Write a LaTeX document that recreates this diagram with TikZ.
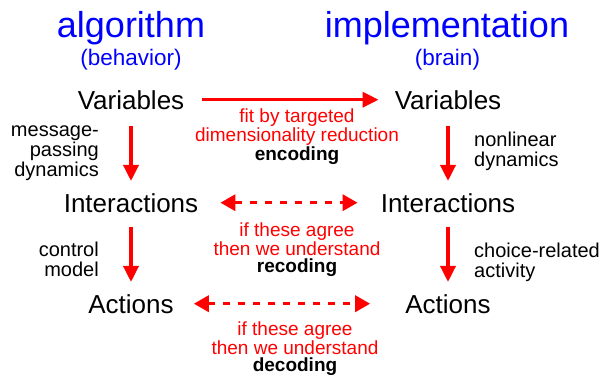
\documentclass[tikz,border=0pt]{standalone}
\usepackage{fontspec}
\setmainfont{Liberation Sans}
\usetikzlibrary{arrows.meta}
\tikzset{
	title_style/.style = {text=blue, font=\fontsize{36}{40}\selectfont, inner sep=0pt, anchor=base},
	sub_style/.style = {text=blue, font=\fontsize{22.5}{26}\selectfont, inner sep=0pt, anchor=base},
	note_style/.style = {text=red, font=\fontsize{19}{17}\selectfont, align=center, inner sep=0pt, anchor=base},
	side_style/.style = {font=\fontsize{20}{20}\selectfont, inner sep=0pt}
}

\begin{document}
\begin{tikzpicture}[
    x=1pt, y=-1pt,
    node distance=317pt,
    level_style/.style={
        font=\fontsize{26}{30}\selectfont,
        inner sep=0pt,
        anchor=base
        },
    link_style/.style={
        draw=red,
        line width=3.5pt,
        -{Triangle[length=16pt,width=15pt]}
        },
    match_style/.style={
        draw=red,
        line width=3.5pt,
        dash pattern=on 7pt off 8pt,
        {Triangle[length=15pt,width=16pt]}-{Triangle[length=15pt,width=16pt]}
        }]
    \useasboundingbox (0,0) rectangle (603,378);

    % column heads
    \node[title_style] (alg) at (131,37) {algorithm};
    \node[sub_style] (beh) at (131,65) {(behavior)};
    \node[title_style] (impl) at (447,37) {implementation};
    \node[sub_style] (brain) at (447.5,65) {(brain)};

    % levels
    \node[level_style] (var1) at (131,109) {Variables};
    \node[level_style] (int1) at (131,212) {Interactions};
    \node[level_style] (act1) at (131,313) {Actions};
    \node[level_style, right of=var1] (var2) {Variables};
    \node[level_style, right of=int1] (int2) {Interactions};
    \node[level_style, right of=act1] (act2) {Actions};

    \draw[link_style, shorten <=18pt, shorten >=16pt] (var1.east) -- (var2.west);
    \draw[link_style, shorten <=17pt, shorten >=12pt] (var1) -- (int1);
    \draw[link_style, shorten <=15pt, shorten >=12pt] (int1) -- (act1);
    \draw[link_style, shorten <=17pt, shorten >=12pt] (var2) -- (int2);
    \draw[link_style, shorten <=15pt, shorten >=12pt] (int2) -- (act2);
    \draw[match_style, shorten <=22pt, shorten >=23pt] (int1.east) -- (int2.west);
    \draw[match_style, shorten <=20pt, shorten >=35pt] (act1.east) -- (act2.west);

    % labels (base = last line)
    \node[note_style] (enc) at (297,160) {fit by targeted\\dimensionality reduction\\{\color{black}\bfseries encoding}};
    \node[note_style] (rec) at (297,272) {if these agree\\then we understand\\{\color{black}\bfseries recoding}};
    \node[note_style] (dec) at (295,371) {if these agree\\then we understand\\{\color{black}\bfseries decoding}};

    \node[side_style, align=right, anchor=base east] (msg) at (99,176) {message-\\passing\\dynamics};
    \node[side_style, align=left, anchor=base west] (nonlin) at (474,166) {nonlinear\\dynamics};
    \node[side_style, align=right, anchor=base east] (ctrl) at (99,276) {control\\model};
    \node[side_style, align=left, anchor=base west] (choice) at (474,277) {choice-related\\activity};
\end{tikzpicture}
\end{document}
